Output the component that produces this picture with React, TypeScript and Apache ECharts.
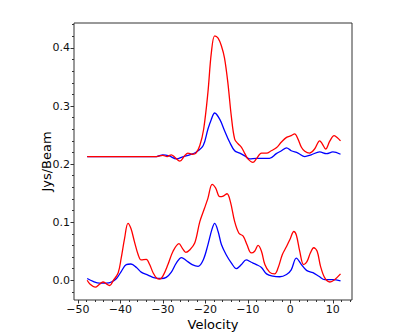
import React, { useEffect, useRef } from "react";
import * as echarts from "echarts";

// velocities for each series (km/s) and values (Jy/beam)
const upperRedV = [-47.8, -31.5, -30, -29, -28.0, -27.2, -26, -24.9, -24.1, -23.0, -22.2, -21.3, -20.4, -19.4, -18.6, -17.8, -17.0, -16.2, -15.5, -14.7, -13.9, -13.1, -12.3, -11.5, -10.7, -10.0, -8.8, -8.0, -6.8, -5.6, -4.5, -3.3, -2.1, -0.9, 0.2, 1.0, 1.8, 2.6, 3.4, 4.5, 5.7, 6.9, 7.5, 8.3, 9.3, 10.3, 11.0, 11.8];
const upperRedY = [0.213, 0.213, 0.215, 0.213, 0.216, 0.212, 0.205, 0.214, 0.219, 0.217, 0.219, 0.232, 0.26, 0.323, 0.391, 0.421, 0.417, 0.403, 0.383, 0.34, 0.283, 0.243, 0.235, 0.229, 0.218, 0.209, 0.203, 0.209, 0.219, 0.219, 0.223, 0.228, 0.238, 0.246, 0.249, 0.252, 0.243, 0.229, 0.222, 0.219, 0.226, 0.24, 0.235, 0.226, 0.24, 0.249, 0.246, 0.24];

const upperBlueV = [-47.8, -31.5, -30, -28.5, -26.8, -25.2, -23.7, -22.1, -20.5, -19.4, -18.6, -17.8, -16.6, -15.5, -14.3, -13.1, -11.9, -10.7, -9.6, -8.0, -6.4, -4.9, -3.3, -2.1, -0.9, 0.2, 1.8, 3.4, 4.9, 6.9, 8.5, 10.0, 11.8];
const upperBlueY = [0.213, 0.213, 0.216, 0.214, 0.209, 0.213, 0.216, 0.221, 0.232, 0.26, 0.277, 0.288, 0.277, 0.258, 0.238, 0.223, 0.219, 0.214, 0.209, 0.21, 0.21, 0.21, 0.218, 0.223, 0.228, 0.223, 0.219, 0.213, 0.216, 0.221, 0.218, 0.221, 0.217];

const lowerRedV = [-47.8, -47.1, -45.9, -44.9, -44.1, -43.1, -42.5, -41.7, -40.5, -39.8, -39.0, -38.2, -37.5, -36.7, -35.8, -35.1, -33.9, -33.1, -32.3, -31.5, -30.7, -30.0, -28.8, -27.6, -26.2, -25.4, -24.6, -23.7, -22.5, -21.3, -20.2, -19.4, -18.4, -17.6, -16.6, -15.8, -14.9, -14.1, -13.1, -12.1, -11.1, -10.2, -9.2, -8.4, -7.6, -6.8, -6.0, -4.9, -3.7, -2.9, -1.9, -0.9, 0, 0.8, 1.4, 2.2, 3.1, 3.9, 4.7, 5.5, 6.3, 7.1, 8.1, 9.3, 10.4, 11.8];
const lowerRedY = [0.0, -0.007, -0.012, -0.007, -0.003, -0.007, -0.009, -0.001, 0.013, 0.038, 0.072, 0.098, 0.089, 0.067, 0.044, 0.035, 0.036, 0.027, 0.013, 0.004, 0.002, 0.007, 0.027, 0.05, 0.063, 0.055, 0.048, 0.052, 0.064, 0.101, 0.124, 0.141, 0.165, 0.159, 0.144, 0.145, 0.149, 0.135, 0.101, 0.081, 0.076, 0.061, 0.047, 0.05, 0.06, 0.05, 0.027, 0.014, 0.011, 0.021, 0.044, 0.058, 0.072, 0.084, 0.078, 0.05, 0.027, 0.032, 0.047, 0.056, 0.05, 0.024, 0.004, -0.003, 0.001, 0.011];

const lowerBlueV = [-47.8, -46.4, -44.9, -43.3, -42.1, -40.9, -39.8, -38.6, -37.5, -36.2, -35.1, -33.5, -31.9, -30.4, -29.2, -28.0, -26.8, -25.6, -24.5, -23.1, -21.7, -20.5, -19.4, -18.4, -17.8, -17.0, -16.2, -15.1, -13.9, -12.7, -11.5, -10.4, -9.2, -8.0, -6.8, -5.6, -4.1, -2.5, -0.9, 0.2, 1.4, 2.6, 3.8, 5.3, 6.7, 8.1, 10.0, 11.8];
const lowerBlueY = [0.003, -0.002, -0.005, -0.005, -0.003, 0.003, 0.015, 0.027, 0.028, 0.022, 0.014, 0.009, 0.004, 0.003, 0.005, 0.014, 0.03, 0.039, 0.034, 0.027, 0.024, 0.035, 0.061, 0.089, 0.098, 0.084, 0.061, 0.044, 0.03, 0.02, 0.027, 0.035, 0.031, 0.027, 0.022, 0.011, 0.007, 0.006, 0.01, 0.018, 0.038, 0.027, 0.017, 0.013, 0.007, 0.001, 0.001, -0.001];

const xTicks = [-50, -40, -30, -20, -10, 0, 10];
const xMinorTicks = [-50, -48, -46, -44, -42, -40, -38, -36, -34, -32, -30, -28, -26, -24, -22, -20, -18, -16, -14, -12, -10, -8, -6, -4, -2, 0, 2, 4, 6, 8, 10, 12, 14];
const yTicks = [0, 0.1, 0.2, 0.3, 0.4];
const yMinorTicks = [-0.02, 0, 0.02, 0.04, 0.06, 0.08, 0.1, 0.12, 0.14, 0.16, 0.18, 0.2, 0.22, 0.24, 0.26, 0.28, 0.3, 0.32, 0.34, 0.36, 0.38, 0.4, 0.42, 0.44];

const zip = (a: number[], b: number[]) => a.map((v, i) => [v, b[i]]);

const FONT = "DejaVu Sans";
const X_MIN = -50.9;
const X_MAX = 14.5;
const Y_MIN = -0.034;
const Y_MAX = 0.443;

export default function App() {
  const ref = useRef<HTMLDivElement>(null);
  useEffect(() => {
    if (!ref.current) return;
    const chart = echarts.init(ref.current, undefined, { renderer: "svg" });
    const fmt = (v: number) => (v < 0 ? "\u2212" + Math.abs(v) : String(v));
    const line = (data: number[][], color: string, z: number) => ({
      type: "line",
      data,
      smooth: 0.35,
      symbol: "none",
      z,
      lineStyle: { color, width: 1.3 },
      xAxisIndex: 0,
      yAxisIndex: 0,
    });
    chart.setOption({
      animation: false,
      grid: { left: 74, right: 63, top: 23, bottom: 34, show: true, borderColor: "#333", borderWidth: 1, backgroundColor: "transparent" },
      xAxis: [
        {
          type: "value", min: X_MIN, max: X_MAX, position: "bottom",
          name: "Velocity", nameLocation: "middle", nameGap: 18, nameMoveOverlap: false,
          nameTextStyle: { fontFamily: FONT, fontSize: 13, color: "#000" },
          axisLine: { show: false, onZero: false },
          splitLine: { show: false },
          axisTick: { show: true, length: 3.5, lineStyle: { color: "#333" }, customValues: xTicks },
          axisLabel: { show: true, fontFamily: FONT, fontSize: 11, color: "#111", margin: 4, customValues: xTicks, formatter: fmt },
        },
        {
          type: "value", min: X_MIN, max: X_MAX, position: "bottom",
          axisLine: { show: false, onZero: false }, splitLine: { show: false },
          axisTick: { show: true, length: 2, lineStyle: { color: "#333" }, customValues: xMinorTicks },
          axisLabel: { show: false },
        },
      ],
      yAxis: [
        {
          type: "value", min: Y_MIN, max: Y_MAX, position: "left",
          name: "Jys/Beam", nameLocation: "middle", nameGap: 21, nameMoveOverlap: false,
          nameTextStyle: { fontFamily: FONT, fontSize: 13, color: "#000" },
          axisLine: { show: false, onZero: false },
          splitLine: { show: false },
          axisTick: { show: true, length: 3.5, lineStyle: { color: "#333" }, customValues: yTicks },
          axisLabel: { show: true, fontFamily: FONT, fontSize: 11, color: "#111", margin: 4, customValues: yTicks, formatter: (v: number) => v.toFixed(1) },
        },
        {
          type: "value", min: Y_MIN, max: Y_MAX, position: "left",
          axisLine: { show: false, onZero: false }, splitLine: { show: false },
          axisTick: { show: true, length: 2, lineStyle: { color: "#333" }, customValues: yMinorTicks.filter((v) => v > Y_MIN && v < Y_MAX) },
          axisLabel: { show: false },
        },
      ],
      series: [
        line(zip(upperBlueV, upperBlueY), "#0000ff", 2),
        line(zip(upperRedV, upperRedY), "#ff0000", 3),
        line(zip(lowerBlueV, lowerBlueY), "#0000ff", 2),
        line(zip(lowerRedV, lowerRedY), "#ff0000", 3),
      ],
    });
    return () => chart.dispose();
  }, []);
  return <div ref={ref} style={{ position: "fixed", left: 0, top: 0, width: 415, height: 336, background: "#fff" }} />;
}
